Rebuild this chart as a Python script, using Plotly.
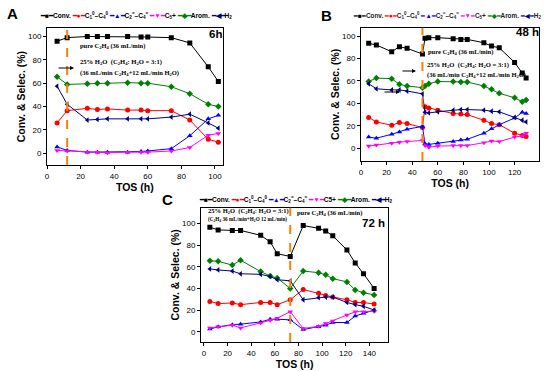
import plotly.graph_objects as go

# ---------------- data ----------------
# Panel A (6h)
tos_A = [6, 12, 24, 30, 36, 48, 56, 60, 74, 85, 96, 102]
conv_A = [96, 99, 100, 100, 100, 100, 99.5, 99.5, 99, 94.5, 74, 61.5]
sat_A = [26, 36.5, 38.5, 37.5, 38, 37, 37, 36.5, 36.5, 28.5, 12, 9.5]
ole_A = [5.5, 2.5, 1, 1, 1, 1, 1.5, 2, 4, 15, 29.5, 32.5]
c5_A = [2.5, 2, 1, 1, 0.5, 1, 1, 1, 2, 5, 15.5, 17]
arom_A = [65.5, 59, 59.5, 60, 60, 60.5, 60, 60, 57, 51, 42, 40]
h2_A = [57.5, 42, 28.5, 29, 29.5, 29.5, 29.5, 29.5, 31, 33.5, 26, 21.5]
switch_A = 12

# Panel B (48 h)
tos_B = [6, 12, 24, 30, 36, 48, 50, 53, 60, 72, 78, 83, 96, 102, 108, 120, 126, 129]
conv_B = [93.5, 92, 86, 90.5, 89, 84, 98, 98.5, 98.5, 97.5, 97, 97, 94, 91, 89.5, 76.5, 67, 62.5]
sat_B = [27.5, 23.5, 20.5, 23, 22, 18.5, 37, 36, 34, 31, 30.5, 30, 25, 22, 21, 13.5, 11.5, 10.5]
ole_B = [10, 9, 12.5, 14.5, 17, 19.5, 4, 3.5, 4.5, 6, 7.5, 8, 13.5, 17.5, 21, 27, 32, 31]
c5_B = [2, 3, 4.5, 5.5, 6, 7, 2.5, 1, 2, 2.5, 2.5, 2.5, 5, 6.5, 6, 10, 11, 13.5]
arom_B = [59.5, 62.5, 62, 57, 55.5, 54, 55.5, 57.5, 59.5, 59.5, 59, 59, 55.5, 52.5, 49, 45, 41.5, 43]
h2_B = [57.5, 53, 52, 52, 51, 48.5, 32, 31.5, 32.5, 34, 34.5, 34.5, 34, 33, 32.5, 27.5, 25, 23.5]
switch_B = 48

# Panel C (72 h)
tos_C = [5, 12, 24, 31, 48, 56, 62, 73, 84, 97, 103, 109, 121, 128, 135, 144]
conv_C = [96.5, 94, 93.5, 93.5, 89, 83, 72, 69.5, 98, 95.5, 93, 88.5, 75.5, 63.5, 53.5, 40]
sat_C = [28, 26, 26.5, 25, 27, 27, 25, 29.5, 39, 35.5, 33.5, 32, 29.5, 27, 27, 25.5]
ole_C = [2.5, 4.5, 6.5, 7, 9, 11.5, 11.5, 11, 2, 4.5, 6, 8.5, 8.5, 14.5, 17, 20]
c5_C = [3.5, 4.5, 6, 3.5, 8, 10.5, 12.5, 18.5, 3, 5, 7.5, 10, 15.5, 18.5, 18.5, 19]
arom_C = [65.5, 65, 61.5, 66, 55.5, 51.5, 49.5, 40, 56, 54.5, 52.5, 49, 46, 38.5, 36, 34]
h2_C = [58, 57, 56, 53.5, 53, 51, 48, 47, 29.5, 31.5, 32, 32, 27, 25, 23.5, 20]
switch_C = 73

y_ticks = [0, 20, 40, 60, 80, 100]
x_ticks_A = [0, 20, 40, 60, 80, 100]
x_ticks_BC = [0, 20, 40, 60, 80, 100, 120, 140]

series_names = ["Conv.", "C1-C4 sat", "C2-C4 ole", "C5+", "Arom.", "H2"]
colors = ["#000000", "#FF0000", "#0000FF", "#FF00FF", "#008000", "#000080"]
symbols = ["square", "circle", "triangle-up", "triangle-down", "diamond", "triangle-left"]
key_glyphs = ["■", "●", "▲", "▼", "◆", "◀"]

panels = [
    ("", tos_A, [conv_A, sat_A, ole_A, c5_A, arom_A, h2_A]),
    ("2", tos_B, [conv_B, sat_B, ole_B, c5_B, arom_B, h2_B]),
    ("3", tos_C, [conv_C, sat_C, ole_C, c5_C, arom_C, h2_C]),
]

fig = go.Figure()
for suf, xs, ys_list in panels:
    for name, ys, col, sym in zip(series_names, ys_list, colors, symbols):
        fig.add_trace(go.Scatter(
            x=xs, y=ys, mode="lines+markers", name=name,
            line=dict(color=col, width=1),
            marker=dict(symbol=sym, size=5, color=col, line=dict(width=0)),
            xaxis="x" + suf, yaxis="y" + suf, showlegend=False,
        ))

tickfont = dict(family="Liberation Sans", size=8, color="black")
titlefont = dict(family="Liberation Sans", size=10.5, color="black")

def xax(domain, rng, ticks, anchor):
    return dict(domain=domain, range=rng, tickvals=ticks, ticks="outside", ticklen=3,
                tickcolor="black", tickwidth=1,
                showline=True, linecolor="black", linewidth=1, mirror=True, automargin=False,
                showgrid=False, zeroline=False, tickfont=tickfont, anchor=anchor,
                title=dict(text="<b>TOS (h)</b>", font=titlefont, standoff=0))

def yax(domain, rng, anchor):
    return dict(domain=domain, range=rng, tickvals=y_ticks, ticks="outside", ticklen=3,
                tickcolor="black", tickwidth=1,
                showline=True, linecolor="black", linewidth=1, mirror=True, automargin=False,
                showgrid=False, zeroline=False, tickfont=tickfont, anchor=anchor,
                title=dict(text="<b>Conv. & Selec. (%)</b>", font=dict(family="Liberation Sans", size=10.5, color="black"), standoff=0))

W, H = 550, 371
def px(x):
    return x / W
def py(y):
    return 1 - y / H

fig.update_layout(
    template="none",
    width=W, height=H, margin=dict(l=0, r=0, t=0, b=0),
    paper_bgcolor="white", plot_bgcolor="white",
    xaxis=xax([px(47), px(222.7)], [0, 104.6], x_ticks_A, "y"),
    yaxis=yax([py(165), py(28.3)], [-10, 107], "x"),
    xaxis2=xax([px(361), px(539.3)], [0, 139.3], x_ticks_BC, "y2"),
    yaxis2=yax([py(161), py(27.7)], [-11.3, 107.4], "x2"),
    xaxis3=xax([px(201), px(388.3)], [-2.5, 156], x_ticks_BC, "y3"),
    yaxis3=yax([py(342), py(207.7)], [-9.5, 114.5], "x3"),
    showlegend=False,
)

# switch lines
for suf, xv in [("", switch_A), ("2", switch_B), ("3", switch_C)]:
    fig.add_shape(type="line", xref="x" + suf, yref="y" + suf + " domain",
                  x0=xv, x1=xv, y0=0, y1=1, line=dict(color="#FF8000", width=2, dash="dash"))

ann = []
serif = "Liberation Serif"

def txt(x, y, text, size, family="Liberation Sans", xanchor="left", color="black", bold=True):
    ann.append(dict(xref="paper", yref="paper", x=px(x), y=py(y), text=("<b>%s</b>" % text) if bold else text,
                    showarrow=False, xanchor=xanchor, yanchor="middle",
                    font=dict(family=family, size=size, color=color)))

def arrow(x0, x1, y):
    ann.append(dict(xref="paper", yref="paper", x=px(x1), y=py(y), ax=-(x1 - x0), ay=0,
                    text="", showarrow=True,
                    arrowhead=2, arrowsize=0.8, arrowwidth=1, arrowcolor="black"))

# panel letters
txt(12, 14, "A", 15, xanchor="center")
txt(326, 15, "B", 15, xanchor="center")
txt(167, 200, "C", 15, xanchor="center")

# legends (text keys)
labels_AB = ["Conv.", "C<sub>1</sub><sup>0</sup>–C<sub>4</sub><sup>0</sup>",
             "C<sub>2</sub><sup>=</sup>–C<sub>4</sub><sup>=</sup>", "C<sub>5</sub>+", "Arom.", "H<sub>2</sub>"]
labels_C = ["Conv.", "C<sub>1</sub><sup>0</sup>–C<sub>4</sub><sup>0</sup>",
            "C<sub>2</sub><sup>=</sup>–C<sub>4</sub><sup>=</sup>", "C5+", "Arom.", "H<sub>2</sub>"]

def legend_text(labels):
    parts = []
    for lab, col, g in zip(labels, colors, key_glyphs):
        parts.append('<span style="color:%s">━%s━</span>%s' % (col, g, lab))
    return " ".join(parts)

txt(38, 15, legend_text(labels_AB), 6.6, xanchor="left")
txt(351, 15, legend_text(labels_AB), 6.4, xanchor="left", color="#222222")
txt(197, 200, legend_text(labels_C), 6.6, xanchor="left")

# panel A notes
txt(215, 34, "6h", 11.5, xanchor="center")
txt(78, 46, "pure C<sub>2</sub>H<sub>4</sub> (36 mL/min)", 6.5, family=serif)
txt(78, 62, "25% H<sub>2</sub>O  (C<sub>2</sub>H<sub>4</sub>: H<sub>2</sub>O = 3:1)", 6.6, family=serif)
txt(78, 72.5, "(36 mL/min C<sub>2</sub>H<sub>4</sub>+12 mL/min H<sub>2</sub>O)", 6.5, family=serif)
arrow(57, 74, 68)

# panel B notes
txt(527, 32, "48 h", 11.5, xanchor="center")
txt(426, 52, "pure C<sub>2</sub>H<sub>4</sub> (36 mL/min)", 6.5, family=serif)
txt(425, 65, "25% H<sub>2</sub>O  (C<sub>2</sub>H<sub>4</sub>: H<sub>2</sub>O = 3:1)", 6.6, family=serif)
txt(425, 75.5, "(36 mL/min C<sub>2</sub>H<sub>4</sub>+12 mL/min H<sub>2</sub>O)", 6.5, family=serif)
arrow(401, 416, 71)
arrow(383, 400, 92)

# panel C notes
txt(206, 211, "25% H<sub>2</sub>O  (C<sub>2</sub>H<sub>4</sub>: H<sub>2</sub>O = 3:1)", 6.5, family=serif)
txt(206, 219.5, "(C<sub>2</sub>H<sub>4</sub> 36 mL/min+H<sub>2</sub>O 12 mL/min)", 5.2, family=serif)
txt(295, 212.5, "pure C<sub>2</sub>H<sub>4</sub> (36 mL/min)", 6.5, family=serif)
txt(373, 223, "72 h", 11.5, xanchor="center")

fig.update_layout(annotations=ann)
fig.write_html("out.html", config={"displayModeBar": False},
               post_script="document.body.style.margin='0';")
